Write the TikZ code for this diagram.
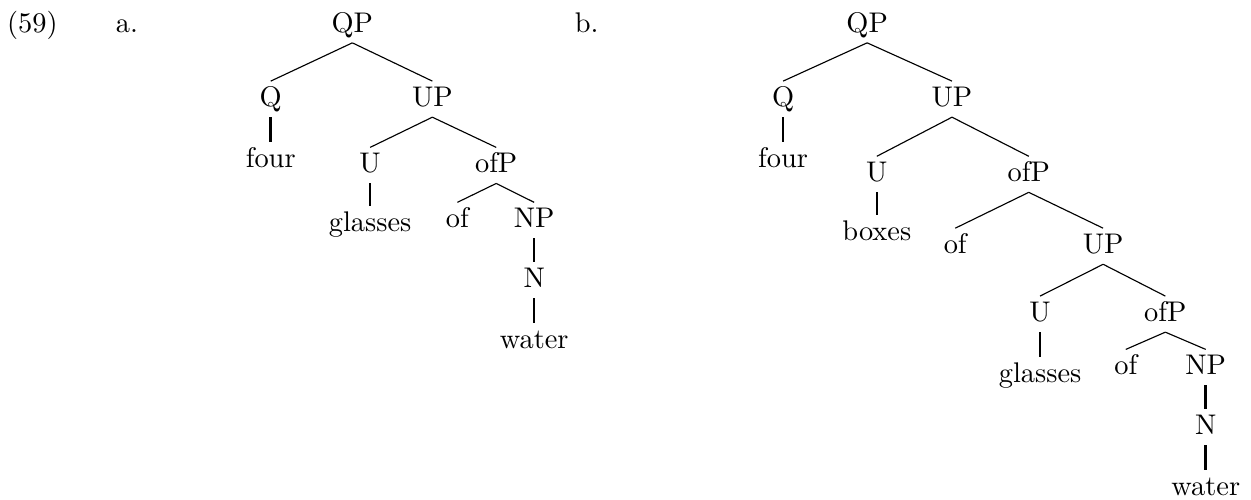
\documentclass[tikz,border=0pt]{standalone}
\usepackage{tikz}

\begin{document}
\begin{tikzpicture}[
  lab/.style={anchor=base,inner sep=0pt},
  cat/.style={anchor=base,inner sep=2pt,text height=6.8pt,text depth=1.5pt},
  branch/.style={line width=0.4pt},
  unary/.style={line width=0.9pt}]
\useasboundingbox (0,0) rectangle (15.48,-6.175);
% example number and sub-labels
\node[lab] (ex) at (0.40,-0.40) {(59)};
\node[lab] (la) at (1.57,-0.40) {a.};
\node[lab] (lb) at (7.26,-0.40) {b.};
% tree a
\node[cat] (a-qp) at (4.36,-0.40) {QP};
\node[cat] (a-q) at (3.35,-1.32) {Q};
\node[cat] (a-up) at (5.35,-1.32) {UP};
\node[cat] (a-four) at (3.35,-2.07) {four};
\node[cat] (a-u) at (4.58,-2.14) {U};
\node[cat] (a-ofp) at (6.14,-2.14) {ofP};
\node[cat] (a-glasses) at (4.58,-2.87) {glasses};
\node[cat] (a-of) at (5.66,-2.82) {of};
\node[cat] (a-np) at (6.61,-2.82) {NP};
\node[cat] (a-n) at (6.61,-3.56) {N};
\node[cat] (a-water) at (6.61,-4.31) {water};
\draw[branch] (a-qp.south) -- (a-q.north);
\draw[branch] (a-qp.south) -- (a-up.north);
\draw[unary] (a-q.south) -- (a-four.north);
\draw[branch] (a-up.south) -- (a-u.north);
\draw[branch] (a-up.south) -- (a-ofp.north);
\draw[unary] (a-u.south) -- (a-glasses.north);
\draw[branch] (a-ofp.south) -- (a-of.north);
\draw[branch] (a-ofp.south) -- (a-np.north);
\draw[unary] (a-np.south) -- (a-n.north);
\draw[unary] (a-n.south) -- (a-water.north);
% tree b
\node[cat] (b-qp) at (10.73,-0.40) {QP};
\node[cat] (b-q) at (9.69,-1.32) {Q};
\node[cat] (b-up) at (11.78,-1.32) {UP};
\node[cat] (b-four) at (9.69,-2.07) {four};
\node[cat] (b-u) at (10.85,-2.25) {U};
\node[cat] (b-ofp) at (12.73,-2.25) {ofP};
\node[cat] (b-boxes) at (10.85,-2.98) {boxes};
\node[cat] (b-of) at (11.82,-3.14) {of};
\node[cat] (b-up2) at (13.65,-3.14) {UP};
\node[cat] (b-u2) at (12.87,-3.98) {U};
\node[cat] (b-ofp2) at (14.42,-3.98) {ofP};
\node[cat] (b-glasses) at (12.87,-4.73) {glasses};
\node[cat] (b-of2) at (13.93,-4.64) {of};
\node[cat] (b-np) at (14.92,-4.64) {NP};
\node[cat] (b-n) at (14.92,-5.38) {N};
\node[cat] (b-water) at (14.92,-6.13) {water};
\draw[branch] (b-qp.south) -- (b-q.north);
\draw[branch] (b-qp.south) -- (b-up.north);
\draw[unary] (b-q.south) -- (b-four.north);
\draw[branch] (b-up.south) -- (b-u.north);
\draw[branch] (b-up.south) -- (b-ofp.north);
\draw[unary] (b-u.south) -- (b-boxes.north);
\draw[branch] (b-ofp.south) -- (b-of.north);
\draw[branch] (b-ofp.south) -- (b-up2.north);
\draw[branch] (b-up2.south) -- (b-u2.north);
\draw[branch] (b-up2.south) -- (b-ofp2.north);
\draw[unary] (b-u2.south) -- (b-glasses.north);
\draw[branch] (b-ofp2.south) -- (b-of2.north);
\draw[branch] (b-ofp2.south) -- (b-np.north);
\draw[unary] (b-np.south) -- (b-n.north);
\draw[unary] (b-n.south) -- (b-water.north);
\end{tikzpicture}
\end{document}
